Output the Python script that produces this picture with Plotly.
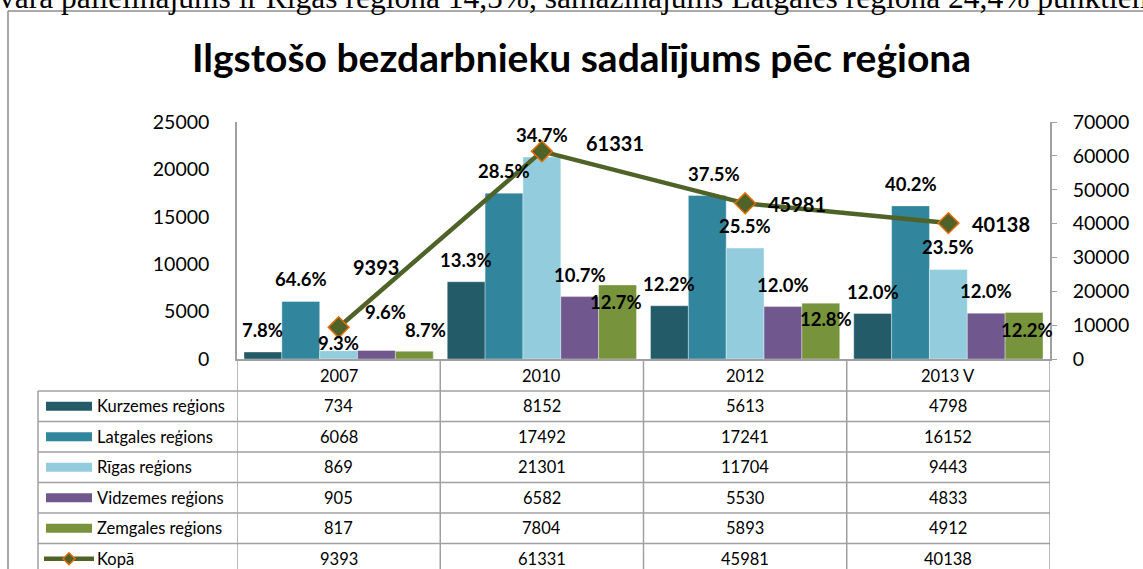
import plotly.graph_objects as go

# ---------------- data ----------------
years = ["2007", "2010", "2012", "2013 V"]
regions = ["Kurzemes reģions", "Latgales reģions", "Rīgas reģions",
           "Vidzemes reģions", "Zemgales reģions"]
kurzeme = [734, 8152, 5613, 4798]
latgale = [6068, 17492, 17241, 16152]
riga = [869, 21301, 11704, 9443]
vidzeme = [905, 6582, 5530, 4833]
zemgale = [817, 7804, 5893, 4912]
total_name = "Kopā"
total = [9393, 61331, 45981, 40138]
title_text = "Ilgstošo bezdarbnieku sadalījums pēc reģiona"
top_text = "vāra palielinājums ir Rīgas reģionā 14,5%, samazinājums Latgales reģionā 24,4% punktiem"
left_ticks = [0, 5000, 10000, 15000, 20000, 25000]
right_ticks = [0, 10000, 20000, 30000, 40000, 50000, 60000, 70000]

series = [kurzeme, latgale, riga, vidzeme, zemgale]
colors = ["#245B69", "#31859C", "#93CDDD", "#70588E", "#77933C"]
line_color = "#4F6228"
marker_border = "#E46C0A"
grid_gray = "#A0A0A0"
FONT = "Lato"

# ---------------- layout helpers (pixel geometry) ----------------
W, H = 1143, 569
PL, PR, PT, PB = 237, 1050, 122, 359
def pxx(x):
    return (x - PL) / (PR - PL)
def pxy(y):
    return (PB - y) / (PB - PT)

bargap = 0.069
bw = (1 - bargap) / len(series)
xs = list(range(len(years)))

fig = go.Figure()
for name, vals, col in zip(regions, series, colors):
    fig.add_trace(go.Bar(x=xs, y=vals, name=name,
                         marker=dict(color=col, line=dict(width=0.6, color="rgba(255,255,255,0.6)")),
                         showlegend=False))
fig.add_trace(go.Scatter(x=xs, y=total, name=total_name, yaxis="y2", mode="lines+markers",
                         line=dict(color=line_color, width=4.5),
                         marker=dict(symbol="diamond", size=16, color=line_color,
                                     line=dict(color=marker_border, width=1.5)),
                         showlegend=False))

annotations = []
shapes = []

# percentage labels on bars
shift_override = {  # (series, year): (xshift, yshift)
    (2, 0): (0, 8), (3, 0): (9, 38), (4, 0): (11, 21),
    (4, 1): (-2, -17), (4, 2): (5, -16), (4, 3): (3, -18),
    (1, 2): (7, 22),
}
for k, vals in enumerate(series):
    for j, v in enumerate(vals):
        pct = v / total[j] * 100
        xs_, ys_ = shift_override.get((k, j), (0, 22))
        annotations.append(dict(x=j + (k - 2) * bw, y=v, xref="x", yref="y",
                                text=f"{pct:.1f}%", showarrow=False,
                                xanchor="center", yanchor="middle",
                                xshift=xs_, yshift=ys_,
                                font=dict(family=FONT, size=18.5, color="#000000", weight="bold")))
# total labels
tot_shift = [(37, 60), (73, 8), (52, -1), (53, -1)]
for j, v in enumerate(total):
    annotations.append(dict(x=j, y=v, xref="x", yref="y2", text=str(v), showarrow=False,
                            xanchor="center", yanchor="middle",
                            xshift=tot_shift[j][0], yshift=tot_shift[j][1],
                            font=dict(family=FONT, size=20, color="#000000", weight="bold")))

# title
annotations.append(dict(x=pxx(581), y=pxy(57), xref="paper", yref="paper", text=title_text,
                        showarrow=False, xanchor="center", yanchor="middle",
                        font=dict(family=FONT, size=39, color="#000000", weight="bold")))
# document text above the chart (cut off by the page edge, as in the source)
annotations.append(dict(x=pxx(-3), y=pxy(17), xref="paper", yref="paper", text=top_text,
                        showarrow=False, xanchor="left", yanchor="bottom",
                        font=dict(family="Liberation Serif", size=31.5, color="#000000")))

# chart frame
shapes.append(dict(type="line", xref="paper", yref="paper", x0=pxx(8), x1=pxx(1160),
                   y0=pxy(11), y1=pxy(11), line=dict(color="#8C8C8C", width=1.5)))
shapes.append(dict(type="line", xref="paper", yref="paper", x0=pxx(8), x1=pxx(8),
                   y0=pxy(11), y1=pxy(580), line=dict(color="#8C8C8C", width=1.5)))

# data table
row_h = 30.5
header_bottom = 391
rows_y = [header_bottom + i * row_h for i in range(7)]  # row borders
tl = dict(color=grid_gray, width=1.5)
for yb in rows_y[:-1]:
    shapes.append(dict(type="line", xref="paper", yref="paper", x0=pxx(38), x1=pxx(PR),
                       y0=pxy(yb), y1=pxy(yb), line=tl))
shapes.append(dict(type="line", xref="paper", yref="paper", x0=pxx(38), x1=pxx(38),
                   y0=pxy(header_bottom), y1=pxy(590), line=tl))
for b in [-0.5, 0.5, 1.5, 2.5, 3.5]:
    shapes.append(dict(type="line", xref="x", yref="paper", x0=b, x1=b,
                       y0=0, y1=pxy(590), line=tl))
# header
for j, yr in enumerate(years):
    annotations.append(dict(x=j, y=pxy((PB + header_bottom) / 2 + 1), xref="x", yref="paper",
                            text=yr, showarrow=False, xanchor="center", yanchor="middle",
                            font=dict(family=FONT, size=16.5, color="#000000")))
all_rows = [(regions[k], series[k], colors[k]) for k in range(len(series))] + [(total_name, total, None)]
for i, (name, vals, col) in enumerate(all_rows):
    yc = rows_y[i] + row_h / 2
    annotations.append(dict(x=pxx(95), y=pxy(yc), xref="paper", yref="paper", text=name,
                            showarrow=False, xanchor="left", yanchor="middle",
                            font=dict(family=FONT, size=16.5, color="#000000")))
    for j, v in enumerate(vals):
        annotations.append(dict(x=j, y=pxy(yc), xref="x", yref="paper", text=str(v),
                                showarrow=False, xanchor="center", yanchor="middle",
                                font=dict(family=FONT, size=16.5, color="#000000")))
    if col is not None:
        shapes.append(dict(type="rect", xref="paper", yref="paper", x0=pxx(46), x1=pxx(92),
                           y0=pxy(yc - 4.5), y1=pxy(yc + 4.5), fillcolor=col, line=dict(width=0)))
    else:
        shapes.append(dict(type="line", xref="paper", yref="paper", x0=pxx(44), x1=pxx(94),
                           y0=pxy(yc), y1=pxy(yc), line=dict(color=line_color, width=4.5)))
        cx, cy, r = 69, yc, 6
        path = (f"M {pxx(cx - r)},{pxy(cy)} L {pxx(cx)},{pxy(cy - r)} "
                f"L {pxx(cx + r)},{pxy(cy)} L {pxx(cx)},{pxy(cy + r)} Z")
        shapes.append(dict(type="path", xref="paper", yref="paper", path=path,
                           fillcolor=line_color, line=dict(color=marker_border, width=1.5)))

fig.update_layout(
    width=W, height=H,
    margin=dict(l=PL, r=W - PR, t=PT, b=H - PB, pad=0),
    paper_bgcolor="white", plot_bgcolor="white",
    barmode="group", bargap=bargap, bargroupgap=0,
    xaxis=dict(range=[-0.5, 3.5], showticklabels=False, ticks="", showgrid=False,
               zeroline=False, showline=True, linecolor=grid_gray, linewidth=1.5),
    yaxis=dict(range=[0, 25000], tickvals=left_ticks, ticktext=[str(t) for t in left_ticks],
               showgrid=False, zeroline=False,
               showline=True, linecolor=grid_gray, linewidth=1.5, ticks="",
               ticklabelstandoff=22,
               tickfont=dict(family=FONT, size=19.5, color="#000000")),
    yaxis2=dict(range=[0, 70000], tickvals=right_ticks, ticktext=[str(t) for t in right_ticks],
                overlaying="y", side="right",
                showgrid=False, zeroline=False, showline=True, linecolor=grid_gray,
                linewidth=1.5, ticks="outside", ticklen=5, tickcolor=grid_gray,
                ticklabelstandoff=12,
                tickfont=dict(family=FONT, size=19.5, color="#000000")),
    annotations=annotations, shapes=shapes,
    font=dict(family=FONT),
)

fig.write_html("out.html", config={"displayModeBar": False},
               post_script="document.body.style.margin='0px';document.body.style.overflow='hidden';")
